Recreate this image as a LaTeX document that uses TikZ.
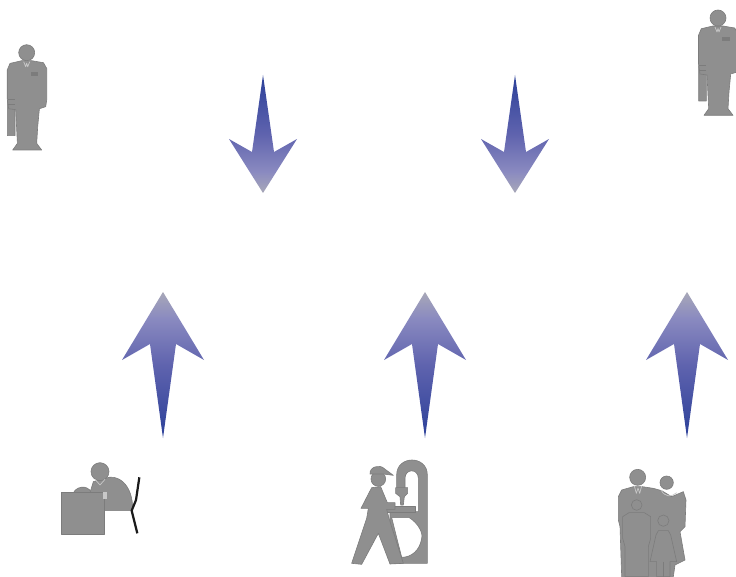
\documentclass[tikz,border=0pt]{standalone}
\usepackage{xcolor}
\usetikzlibrary{calc}
\definecolor{figgrey}{HTML}{8F8F8F}
\definecolor{figline}{HTML}{7C7C7C}
\definecolor{figlight}{HTML}{C8C8C8}
\definecolor{figblack}{HTML}{1A1A1A}
\definecolor{tailblue}{HTML}{2B4099}
\definecolor{midblue}{HTML}{5F63AE}
\definecolor{headblue}{HTML}{8A8AC0}
\definecolor{tipgrey}{HTML}{A8A8B8}
\pgfdeclareverticalshading{arrowfade}{100bp}{
  color(0bp)=(tailblue); color(25bp)=(tailblue); color(50bp)=(midblue);
  color(66bp)=(headblue); color(75bp)=(tipgrey); color(100bp)=(tipgrey)}
\tikzset{
  fig/.style     = {fill=figgrey, draw=figline, line width=0.6pt, line join=round},
  figedge/.style = {draw=figline, line width=0.7pt, line join=round},
  chair/.style   = {draw=figblack, line width=2.2pt, line join=round},
  arrowup/.pic   = {
    \path[shading=arrowfade] (0,0) -- (41,68) -- (13,52) -- (0,146) -- (-13,52) -- (-41,68) -- cycle;
  },
  arrowdown/.pic = {
    \path[shading=arrowfade, shading angle=180] (0,0) -- (11,77) -- (34,64) -- (0,118) -- (-34,64) -- (-11,77) -- cycle;
  },
  suitman/.pic   = {
    \path[fig] (-19.3,48) -- (-11.7,50) -- (-11.7,83) -- (-19.3,83) -- cycle;
    \path[fig] (-5,8) -- (-16.7,10.7) -- (-19.5,17.3) -- (-19.5,46) -- (-18,56) -- (-11,57) -- (-10,77)
      -- (-9.3,90.7) -- (-14,97.3) -- (15,97.3) -- (10,90.7) -- (11,74) -- (12.7,56) -- (19,54) -- (20,47.3)
      -- (20,15.7) -- (16.7,10) -- (5,8) -- cycle;
    \path[fig] (0,0) circle (8);
    \draw[figedge, draw=figlight] (-3,9) -- (-1,14) -- (0,10.5) -- (1,14) -- (3,9);
    \path[fill=figline] (4,19) rectangle (11.7,23.3);
    \draw[figedge] (-19,47) -- (-12,47) (-19,52) -- (-12,52);
  },
}
\begin{document}
\begin{tikzpicture}[x=1pt,y=-1pt]
  \useasboundingbox (0,0) rectangle (736,577);
  \foreach \x in {163,425,687}{
    \path (\x,292) pic {arrowup};
  }
  \foreach \x in {263,515}{
    \path (\x,75) pic {arrowdown};
  }
  \path (26.7,52.7) pic {suitman};
  \path (718,18) pic {suitman};
  % desk
  \begin{scope}[shift={(50,450)},scale=1/3]
    \path[fig] (70,130) .. controls (75,112) and (110,100) .. (125,128) -- cycle;
    \path[fig] (120,128) -- (130,95) -- (165,85) .. controls (200,70) and (250,100) .. (248,182) -- (162,182) -- (162,128) -- cycle;
    \path[fig] (150,65) circle (27);
    \path[fig] (35,128) rectangle (162,253);
    \path[fill=figlight] (160,125) rectangle (172,147);
    \draw[figedge, draw=figlight] (135,88) -- (150,105) -- (165,88);
    \draw[chair] (268,82) -- (258,150) -- (245,182) -- (262,250);
  \end{scope}
  % machinist
  \begin{scope}[shift={(340,450)},scale=1/3]
    \path[fig, even odd rule] (170,118) -- (170,75) .. controls (170,15) and (262,15) .. (262,75) -- (262,340) -- (150,340) -- (150,185) -- (235,185) -- (235,85)
      .. controls (235,55) and (195,55) .. (195,85) -- (195,118) -- cycle
      (155,203) -- (208,203) .. controls (235,220) and (250,250) .. (245,265) .. controls (240,300) and (215,322) .. (185,322) -- cycle;
    \path[fig] (167,113) -- (203,113) -- (203,130) -- (193,140) -- (190,165) -- (182,165) -- (180,140) -- (167,130) -- cycle;
    \path[fig] (125,168) -- (225,168) -- (225,186) -- (125,186) -- cycle;
    \path[fig] (95,113) -- (122,110) -- (142,158) -- (165,158) -- (165,178) -- (140,178) -- (150,215) -- (190,340) -- (150,342) -- (115,250) -- (65,343) -- (35,340) -- (80,205) -- (85,175) -- (63,175) -- cycle;
    \path[fig] (115,87) circle (22);
    \path[fig] (90,72) .. controls (88,50) and (120,42) .. (133,56) -- (160,76) -- (130,72) -- cycle;
  \end{scope}
  % family
  \begin{scope}[shift={(605,460)},scale=1/3]
    \path[fig] (40,110) -- (50,90) -- (85,80) -- (112,80) -- (145,85) -- (170,92) -- (200,110) -- (235,95) -- (243,120) -- (240,200) -- (225,215) -- (240,300) -- (210,315)
      -- (205,350) -- (50,350) -- (45,200) -- (40,180) -- cycle;
    \path[fig] (98,52) circle (24);
    \path[fig] (185,68) circle (20);
    \draw[figedge, draw=figlight] (88,78) -- (94,100) -- (99,84) -- (104,100) -- (110,78);
    \draw[figedge, draw=figlight] (168,90) .. controls (180,112) and (200,112) .. (215,98);
    \path[fig] (72,158) -- (118,158) -- (137,170) -- (137,235) -- (130,260) -- (130,350) -- (60,350) -- (60,260) -- (53,235) -- (53,170) -- cycle;
    \path[fig] (95,135) circle (16);
    \path[fig] (160,212) -- (190,212) -- (197,225) -- (215,305) -- (195,305) -- (195,350) -- (155,350) -- (155,305) -- (135,305) -- (153,225) -- cycle;
    \path[fig] (175,182) circle (17);
    \draw[figedge] (175,305) -- (175,350);
  \end{scope}
\end{tikzpicture}
\end{document}
